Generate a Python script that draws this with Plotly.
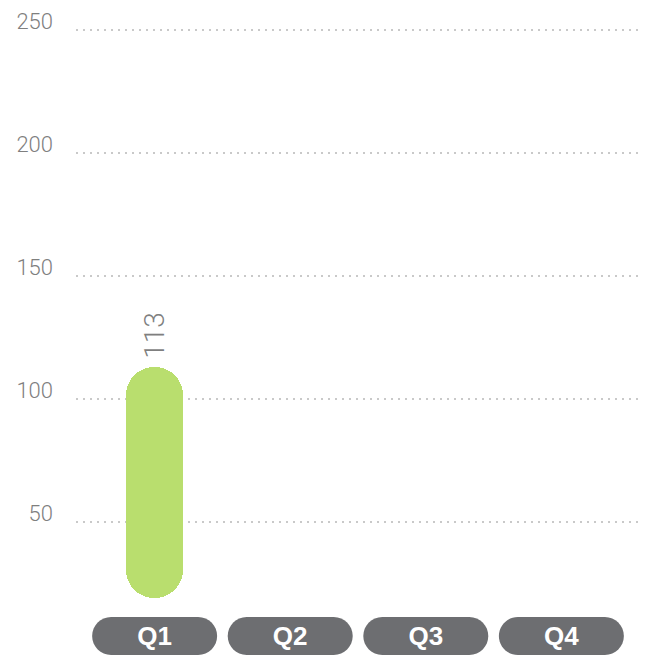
import plotly.graph_objects as go

# Quarterly data
quarters = ["Q1", "Q2", "Q3", "Q4"]
values = [113, None, None, None]
value_labels = ["113", "", "", ""]
y_ticks = [50, 100, 150, 200, 250]
axis_floor = 19
axis_top = 258
cap_overlap = 30  # how far each half reaches past the other's rounded end

BAR_COLOR = "#b9de6e"
PILL_COLOR = "#6d6e71"
TEXT_GRAY = "#7f7f7f"
GRID_COLOR = "#c9c9c9"


def pill_path(w, h, cy):
    """Rounded capsule path in pixel units, centred horizontally on 0."""
    r = h / 2
    k = 0.5523 * r
    x0, x1 = -w / 2, w / 2
    top, bot = cy + r, cy - r
    return (
        f"M{x0 + r},{top} L{x1 - r},{top} "
        f"C{x1 - r + k},{top} {x1},{cy + k} {x1},{cy} "
        f"C{x1},{cy - k} {x1 - r + k},{bot} {x1 - r},{bot} "
        f"L{x0 + r},{bot} "
        f"C{x0 + r - k},{bot} {x0},{cy - k} {x0},{cy} "
        f"C{x0},{cy + k} {x0 + r - k},{top} {x0 + r},{top} Z"
    )


fig = go.Figure()

# Capsule bar built from two overlapping rounded bars:
# one rising to the value (rounded top), one falling to the floor (rounded bottom)
up_base = [None if v is None else axis_floor + cap_overlap for v in values]
fig.add_trace(go.Bar(
    x=quarters,
    y=[None if v is None else v - b for v, b in zip(values, up_base)],
    base=up_base,
    width=0.42,
    marker=dict(color=BAR_COLOR, cornerradius="50%", line=dict(width=0)),
    hoverinfo="skip",
))
down_base = [None if v is None else v - cap_overlap for v in values]
fig.add_trace(go.Bar(
    x=quarters,
    y=[None if v is None else axis_floor - b for v, b in zip(values, down_base)],
    base=down_base,
    width=0.42,
    marker=dict(color=BAR_COLOR, cornerradius="50%", line=dict(width=0)),
    hoverinfo="skip",
))

# Vertical value labels above the bars
for q, v, lab in zip(quarters, values, value_labels):
    if v is None:
        continue
    fig.add_annotation(
        x=q, y=v, text=lab, showarrow=False, textangle=-90,
        xanchor="center", yanchor="bottom", yshift=6,
        font=dict(family="Roboto, Liberation Sans, sans-serif", size=28,
                  color=TEXT_GRAY, weight=300),
    )

# Grey capsules behind the category labels
for q in quarters:
    fig.add_shape(
        type="path", layer="below",
        xref="x", xsizemode="pixel", xanchor=q,
        yref="paper", ysizemode="pixel", yanchor=0,
        path=pill_path(125, 38, -38),
        fillcolor=PILL_COLOR, line=dict(width=0),
    )

fig.update_layout(
    width=645, height=656,
    margin=dict(l=76, r=5, t=10, b=58),
    paper_bgcolor="white", plot_bgcolor="white",
    barmode="overlay",
    showlegend=False,
    bargap=0,
)

fig.update_xaxes(
    type="category",
    categoryorder="array", categoryarray=quarters,
    range=[-0.58, 3.58],
    showgrid=False, zeroline=False, showline=False, ticks="",
    tickfont=dict(family="Liberation Sans, Arial, sans-serif", size=26,
                  color="white", weight="bold"),
    ticklabelstandoff=20,
)

fig.update_yaxes(
    range=[axis_floor, axis_top],
    tickvals=y_ticks,
    showgrid=True, gridcolor=GRID_COLOR, gridwidth=1.5, griddash="2px,5px",
    zeroline=False, showline=False, ticks="",
    tickfont=dict(family="Roboto, Liberation Sans, sans-serif", size=22,
                  color=TEXT_GRAY, weight=300),
    ticklabelstandoff=22,
    ticklabelshift=-8,
)

fig.write_html("out.html")
